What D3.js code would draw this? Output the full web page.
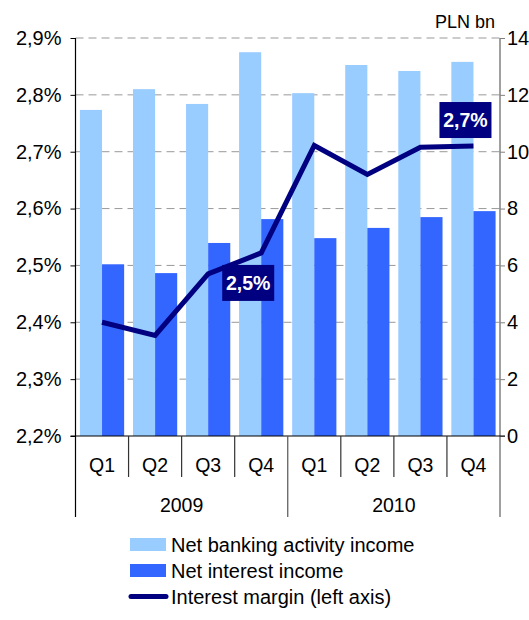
<!DOCTYPE html>
<html>
<head>
<meta charset="utf-8">
<script src="https://cdn.jsdelivr.net/npm/d3@7"></script>
<style>
  body { margin: 0; background: #fff; }
  svg { display: block; font-family: Arial, "Liberation Sans", sans-serif; }
</style>
</head>
<body>
<div id="chart"></div>
<script>
// data
var quarters = ["Q1", "Q2", "Q3", "Q4", "Q1", "Q2", "Q3", "Q4"];
var years = ["2009", "2010"];
var bankingIncome = [11.47, 12.2, 11.68, 13.5, 12.06, 13.05, 12.84, 13.16];   // PLN bn
var interestIncome = [6.04, 5.73, 6.79, 7.63, 6.96, 7.32, 7.7, 7.91];        // PLN bn
var margin = [2.40, 2.377, 2.485, 2.522, 2.711, 2.66, 2.708, 2.71];          // %
var leftTicks = [2.2, 2.3, 2.4, 2.5, 2.6, 2.7, 2.8, 2.9];
var rightTicks = [0, 2, 4, 6, 8, 10, 12, 14];
var callouts = [{i: 3, text: "2,5%", dx: -13, dy: 30}, {i: 7, text: "2,7%", dx: -8, dy: -26}];
var legendItems = [
  {name: "Net banking activity income", type: "bar", color: "#99ccff"},
  {name: "Net interest income", type: "bar", color: "#3366ff"},
  {name: "Interest margin (left axis)", type: "line", color: "#000080"}
];

var W = 529, H = 620;
var plot = {left: 75.5, right: 500, top: 38, bottom: 436};

var svg = d3.select("#chart").append("svg")
    .attr("width", W)
    .attr("height", H);

var x = d3.scaleBand().domain(d3.range(quarters.length)).range([plot.left, plot.right]);
var xSub = d3.scaleBand().domain(["bank", "int"]).range([0, x.bandwidth()]).paddingOuter(0.2);
var yL = d3.scaleLinear().domain([2.2, 2.9]).range([plot.bottom, plot.top]);
var yR = d3.scaleLinear().domain([0, 14]).range([plot.bottom, plot.top]);

// dashed grid
svg.append("g")
  .selectAll("line")
  .data(leftTicks.slice(1))
  .enter().append("line")
    .attr("x1", plot.left).attr("x2", plot.right)
    .attr("y1", function(d) { return yL(d); })
    .attr("y2", function(d) { return yL(d); })
    .attr("stroke", "#999")
    .attr("stroke-width", 1)
    .attr("stroke-dasharray", "8,5");

// bars
var groups = svg.append("g").selectAll("g")
    .data(quarters)
    .enter().append("g")
    .attr("transform", function(d, i) { return "translate(" + x(i) + ",0)"; });

groups.append("rect")
    .attr("x", xSub("bank"))
    .attr("width", xSub.bandwidth())
    .attr("y", function(d, i) { return yR(bankingIncome[i]); })
    .attr("height", function(d, i) { return yR(0) - yR(bankingIncome[i]); })
    .attr("fill", "#99ccff");

groups.append("rect")
    .attr("x", xSub("int"))
    .attr("width", xSub.bandwidth())
    .attr("y", function(d, i) { return yR(interestIncome[i]); })
    .attr("height", function(d, i) { return yR(0) - yR(interestIncome[i]); })
    .attr("fill", "#3366ff");

// margin line
var line = d3.line()
    .x(function(d, i) { return x(i) + x.bandwidth() / 2; })
    .y(function(d) { return yL(d); });

svg.append("path")
    .datum(margin)
    .attr("d", line)
    .attr("fill", "none")
    .attr("stroke", "#000080")
    .attr("stroke-width", 5)
    .attr("stroke-linejoin", "miter");

// axes
var leftAxis = d3.axisLeft(yL).tickValues(leftTicks).tickSize(5).tickPadding(9)
    .tickFormat(function(d) { return d3.format(".1f")(d).replace(".", ",") + "%"; });
var gl = svg.append("g")
    .attr("transform", "translate(" + plot.left + ",0)")
    .call(leftAxis);
gl.select(".domain").remove();
gl.selectAll("line").attr("stroke", "#000");
gl.selectAll("text").attr("font-size", 20).attr("fill", "#000")
    .attr("font-family", "Arial, 'Liberation Sans', sans-serif");

var rightAxis = d3.axisRight(yR).tickValues(rightTicks).tickSize(5).tickPadding(2);
var gr = svg.append("g")
    .attr("transform", "translate(" + plot.right + ",0)")
    .call(rightAxis);
gr.select(".domain").remove();
gr.selectAll("line").attr("stroke", "#808080");
gr.selectAll("text").attr("font-size", 20).attr("fill", "#000")
    .attr("font-family", "Arial, 'Liberation Sans', sans-serif");

// vertical axis lines
svg.append("line")
    .attr("x1", plot.left).attr("x2", plot.left)
    .attr("y1", plot.top).attr("y2", 517)
    .attr("stroke", "#000").attr("stroke-width", 1.2);
svg.append("line")
    .attr("x1", plot.right).attr("x2", plot.right)
    .attr("y1", plot.top).attr("y2", 517)
    .attr("stroke", "#808080").attr("stroke-width", 1.5);

// bottom axis line
svg.append("line")
    .attr("x1", plot.left - 5).attr("x2", plot.right + 5)
    .attr("y1", plot.bottom).attr("y2", plot.bottom)
    .attr("stroke", "#000").attr("stroke-width", 1.2);

// category separators
svg.append("g").selectAll("line")
    .data(d3.range(1, quarters.length))
    .enter().append("line")
    .attr("x1", function(d) { return x(d); })
    .attr("x2", function(d) { return x(d); })
    .attr("y1", plot.bottom)
    .attr("y2", function(d) { return d % 4 === 0 ? 517 : 477; })
    .attr("stroke", function(d) { return d % 4 === 0 ? "#555" : "#333"; })
    .attr("stroke-width", 1.2);

// quarter labels
svg.append("g").selectAll("text")
    .data(quarters)
    .enter().append("text")
    .attr("x", function(d, i) { return x(i) + x.bandwidth() / 2; })
    .attr("y", 472)
    .attr("text-anchor", "middle")
    .attr("font-size", 19.5)
    .text(function(d) { return d; });

// year labels
svg.append("g").selectAll("text")
    .data(years)
    .enter().append("text")
    .attr("x", function(d, i) { return (x(i * 4) + x(i * 4 + 3) + x.bandwidth()) / 2; })
    .attr("y", 512)
    .attr("text-anchor", "middle")
    .attr("font-size", 19.5)
    .text(function(d) { return d; });

// unit
svg.append("text")
    .attr("x", 495)
    .attr("y", 28)
    .attr("text-anchor", "end")
    .attr("font-size", 18)
    .text("PLN bn");

// callouts
var co = svg.append("g").selectAll("g")
    .data(callouts)
    .enter().append("g")
    .attr("transform", function(d) {
      return "translate(" + (x(d.i) + x.bandwidth() / 2 + d.dx) + "," + (yL(margin[d.i]) + d.dy) + ")";
    });
co.append("rect")
    .attr("x", -26).attr("y", -18)
    .attr("width", 52).attr("height", 36)
    .attr("fill", "#000080");
co.append("text")
    .attr("text-anchor", "middle")
    .attr("dy", "0.36em")
    .attr("fill", "#fff")
    .attr("font-weight", "bold")
    .attr("font-size", 19.5)
    .text(function(d) { return d.text; });

// legend
var lg = svg.append("g").selectAll("g")
    .data(legendItems)
    .enter().append("g")
    .attr("transform", function(d, i) { return "translate(0," + (544.5 + i * 26) + ")"; });

lg.filter(function(d) { return d.type === "bar"; }).append("rect")
    .attr("x", 130).attr("y", -6.5)
    .attr("width", 36).attr("height", 13)
    .attr("fill", function(d) { return d.color; });
lg.filter(function(d) { return d.type === "line"; }).append("line")
    .attr("x1", 131).attr("x2", 166)
    .attr("y1", 0).attr("y2", 0)
    .attr("stroke", function(d) { return d.color; })
    .attr("stroke-width", 5)
    .attr("stroke-linecap", "round");
lg.append("text")
    .attr("x", 171)
    .attr("dy", "0.36em")
    .attr("font-size", 20)
    .text(function(d) { return d.name; });
</script>
</body>
</html>
